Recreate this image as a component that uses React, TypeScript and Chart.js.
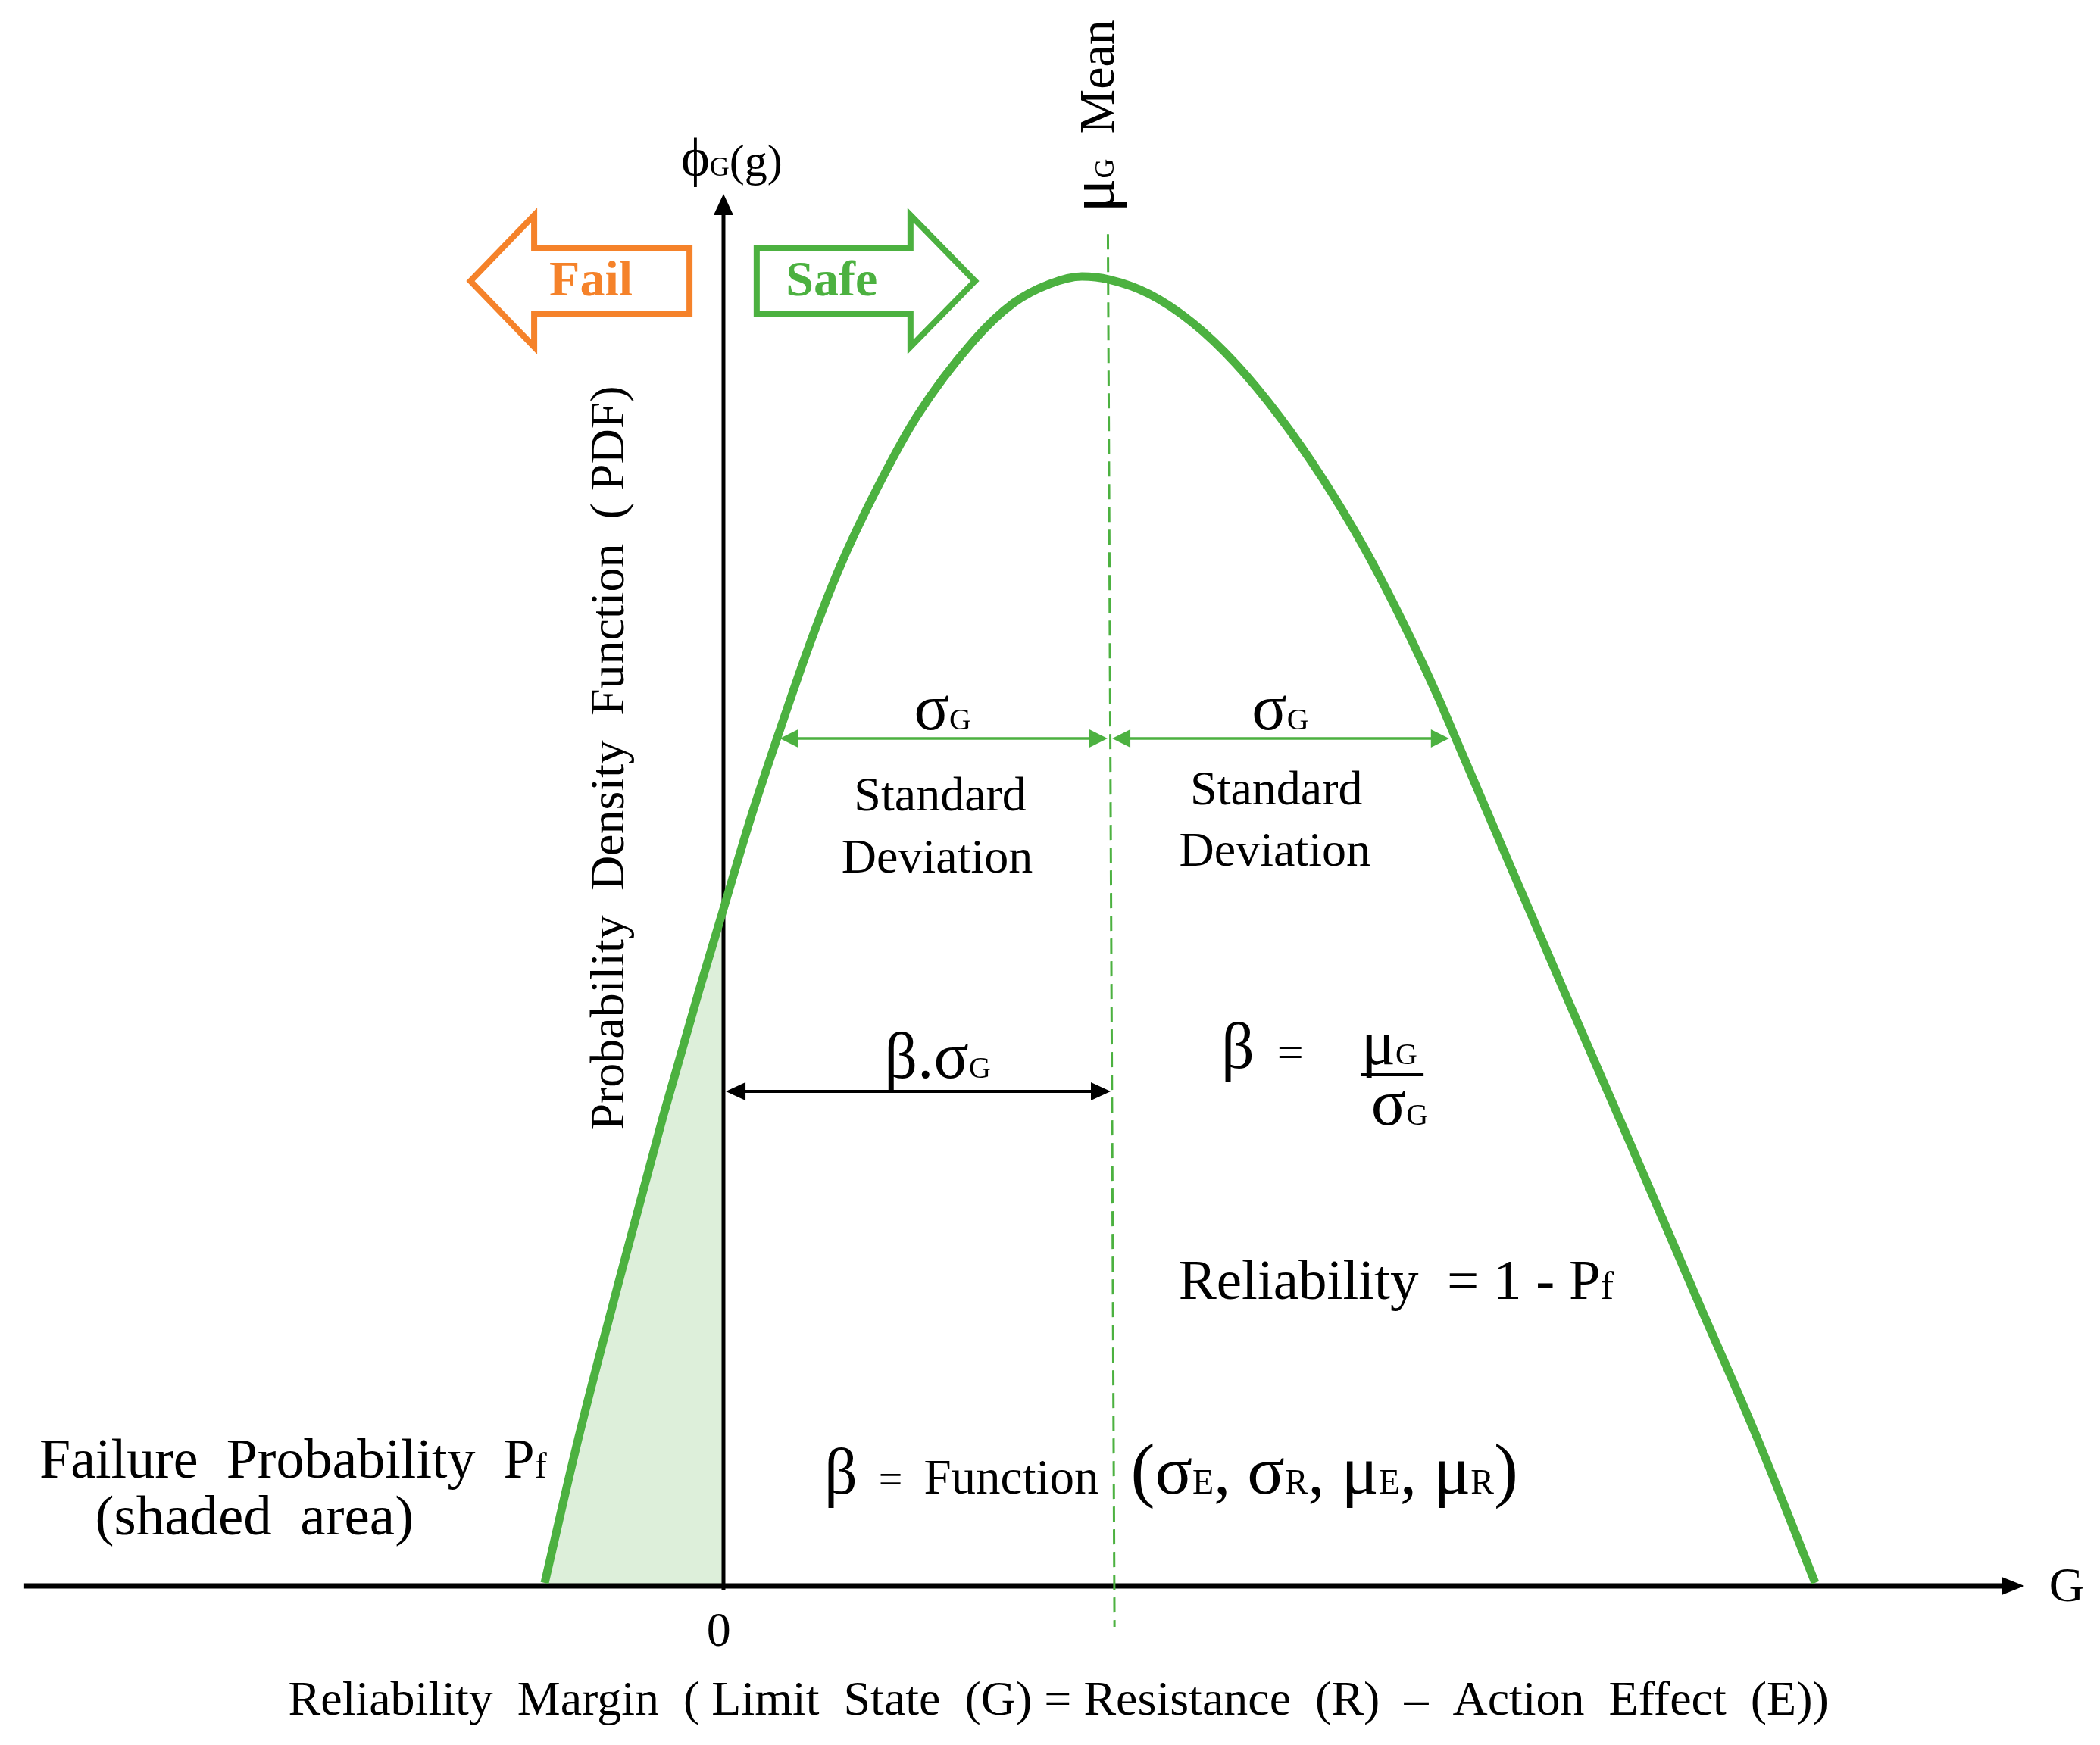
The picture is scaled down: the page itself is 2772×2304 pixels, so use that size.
import React, { useEffect, useRef } from 'react';
import { Chart, registerables } from 'chart.js';

Chart.register(...registerables);

// ---------------- data ----------------
// G axis: 0 = limit state (vertical axis), mean muG = 100 (arbitrary units)
const curveG = [
  -46.27, -37.65, -26.86, -15.69, -6.27, 0, 6.86, 14.31, 22.35, 30.0, 39.22, 50.0, 64.71,
  75.1, 84.31, 92.75, 99.8, 110.2, 121.37, 132.55, 143.92, 155.1, 165.69, 175.88, 184.9,
  189.61, 201.76, 217.25, 234.71, 251.96, 267.65, 282.55,
];
// PDF height (arbitrary units, peak ~ 100)
const curvePDF = [
  0.12, 11.03, 23.34, 35.64, 45.35, 51.53, 58.29, 64.93, 71.75, 77.53, 83.3, 89.08, 94.86,
  97.75, 99.19, 99.77, 99.54, 98.44, 96.25, 93.13, 89.08, 84.34, 79.15, 73.37, 67.71,
  64.47, 56.1, 45.47, 33.62, 21.78, 11.09, 0.12,
];
const meanG = 100;
const gTickValues = [0];
const gTickLabels = ['0'];

const failG = curveG.filter((g) => g <= 0);
const failPDF = curvePDF.slice(0, failG.length);

// ---------------- view / styling ----------------
const W = 2772;
const H = 2304;
const G_MIN = -187.25;
const G_MAX = 356.27;
const P_MIN = -12.25;
const P_MAX = 120.86;

const GREEN = '#4CB140';
const SHADE = '#DDEFDA';
const ORANGE = '#F5822A';
const BLACK = '#000000';
const FONT = '"Liberation Serif", "Times New Roman", Times, "DejaVu Serif", serif';

type Seg = { t: string; s: number; b?: boolean };
type Label = { x: number; y: number; segs: Seg[]; align?: 'left' | 'center'; color?: string; rot?: boolean };

const labels: Label[] = [
  { x: -34.3, y: 98.3, align: 'center', color: ORANGE, segs: [{ t: 'Fail', s: 66, b: true }] },
  { x: 28.0, y: 98.3, align: 'center', color: GREEN, segs: [{ t: 'Safe', s: 66, b: true }] },
  { x: -11.0, y: 107.45, align: 'left', segs: [{ t: 'ϕ', s: 72 }, { t: 'G', s: 36 }, { t: '(g)', s: 60 }] },
  { x: 101.0, y: 112.0, rot: true, align: 'center', segs: [{ t: 'μ', s: 84 }, { t: 'G', s: 36 }, { t: '  Mean', s: 66 }] },
  { x: -25.9, y: 63.03, rot: true, align: 'center', segs: [{ t: 'Probability  Density  Function  ( PDF)', s: 64 }] },
  { x: 56.7, y: 65.2, align: 'center', segs: [{ t: 'σ', s: 86 }, { t: 'G', s: 40 }] },
  { x: 144.1, y: 65.2, align: 'center', segs: [{ t: 'σ', s: 86 }, { t: 'G', s: 40 }] },
  { x: 56.1, y: 59.04, align: 'center', segs: [{ t: 'Standard', s: 64 }] },
  { x: 55.3, y: 54.3, align: 'center', segs: [{ t: 'Deviation', s: 64 }] },
  { x: 143.1, y: 59.5, align: 'center', segs: [{ t: 'Standard', s: 64 }] },
  { x: 142.7, y: 54.82, align: 'center', segs: [{ t: 'Deviation', s: 64 }] },
  { x: 55.4, y: 38.65, align: 'center', segs: [{ t: 'β.σ', s: 86 }, { t: 'G', s: 40 }] },
  { x: 128.8, y: 39.4, align: 'left', segs: [{ t: 'β', s: 86 }] },
  { x: 146.7, y: 39.4, align: 'center', segs: [{ t: '=', s: 62 }] },
  { x: 165.1, y: 39.69, align: 'left', segs: [{ t: 'μ', s: 84 }, { t: 'G', s: 40 }] },
  { x: 167.6, y: 35.07, align: 'left', segs: [{ t: 'σ', s: 86 }, { t: 'G', s: 40 }] },
  { x: 117.8, y: 21.78, align: 'left', segs: [{ t: 'Reliability  = 1 - P', s: 75 }, { t: 'f', s: 52 }] },
  { x: -111.4, y: 8.15, align: 'center', segs: [{ t: 'Failure  Probability  P', s: 74 }, { t: 'f', s: 48 }] },
  { x: -121.4, y: 3.81, align: 'center', segs: [{ t: '(shaded  area)', s: 75 }] },
  {
    x: 26.1, y: 6.93, align: 'left',
    segs: [
      { t: 'β', s: 86 }, { t: '  =  ', s: 56 }, { t: 'Function', s: 65 }, { t: '   ', s: 56 },
      { t: '(', s: 96 }, { t: 'σ', s: 92 }, { t: 'E', s: 46 }, { t: ', ', s: 88 },
      { t: 'σ', s: 92 }, { t: 'R', s: 46 }, { t: ', ', s: 88 },
      { t: 'μ', s: 92 }, { t: 'E', s: 46 }, { t: ', ', s: 88 },
      { t: 'μ', s: 92 }, { t: 'R', s: 46 }, { t: ')', s: 96 },
    ],
  },
  { x: 347.6, y: -1.27, align: 'center', segs: [{ t: 'G', s: 64 }] },
  {
    x: 86.7, y: -9.94, align: 'center',
    segs: [{ t: 'Reliability  Margin  ( Limit  State  (G) = Resistance  (R)  –  Action  Effect  (E))', s: 64 }],
  },
];

// outline arrows (data units)
const failArrow = [
  [-65.5, 99.42], [-49.0, 104.45], [-49.0, 101.91], [-8.8, 101.91],
  [-8.8, 96.94], [-49.0, 96.94], [-49.0, 94.4],
];
const safeArrow = [
  [65.1, 99.42], [48.4, 104.45], [48.4, 101.91], [8.6, 101.91],
  [8.6, 96.94], [48.4, 96.94], [48.4, 94.4],
];

function drawRich(ctx: CanvasRenderingContext2D, segs: Seg[], x: number, y: number, align: string, color: string) {
  ctx.fillStyle = color;
  ctx.textBaseline = 'alphabetic';
  ctx.textAlign = 'left';
  const widths = segs.map((sg) => {
    ctx.font = `${sg.b ? 'bold ' : ''}${sg.s}px ${FONT}`;
    return ctx.measureText(sg.t).width;
  });
  const total = widths.reduce((a, b) => a + b, 0);
  let cx = align === 'center' ? x - total / 2 : x;
  segs.forEach((sg, i) => {
    ctx.font = `${sg.b ? 'bold ' : ''}${sg.s}px ${FONT}`;
    ctx.fillText(sg.t, cx, y);
    cx += widths[i];
  });
}

function arrow(
  ctx: CanvasRenderingContext2D,
  x1: number, y1: number, x2: number, y2: number,
  o: { color: string; width: number; head: number; half: number; start?: boolean; end?: boolean },
) {
  const ang = Math.atan2(y2 - y1, x2 - x1);
  const ux = Math.cos(ang);
  const uy = Math.sin(ang);
  let sx = x1, sy = y1, ex = x2, ey = y2;
  if (o.start) { sx += ux * o.head * 0.8; sy += uy * o.head * 0.8; }
  if (o.end) { ex -= ux * o.head * 0.8; ey -= uy * o.head * 0.8; }
  ctx.save();
  ctx.strokeStyle = o.color;
  ctx.lineWidth = o.width;
  ctx.setLineDash([]);
  ctx.beginPath();
  ctx.moveTo(sx, sy);
  ctx.lineTo(ex, ey);
  ctx.stroke();
  ctx.fillStyle = o.color;
  const tri = (tx: number, ty: number, dx: number, dy: number) => {
    ctx.beginPath();
    ctx.moveTo(tx, ty);
    ctx.lineTo(tx - dx * o.head - dy * o.half, ty - dy * o.head + dx * o.half);
    ctx.lineTo(tx - dx * o.head + dy * o.half, ty - dy * o.head - dx * o.half);
    ctx.closePath();
    ctx.fill();
  };
  if (o.end) tri(x2, y2, ux, uy);
  if (o.start) tri(x1, y1, -ux, -uy);
  ctx.restore();
}

const diagramPlugin = {
  id: 'reliabilityDiagram',
  afterDatasetDraw(chart: any, args: any) {
    if (args.index !== 1) return;
    const ctx: CanvasRenderingContext2D = chart.ctx;
    const X = (v: number) => chart.scales.x.getPixelForValue(v);
    const Y = (v: number) => chart.scales.y.getPixelForValue(v);
    // horizontal G axis
    arrow(ctx, X(-181), Y(-0.12), X(336.7), Y(-0.12), { color: BLACK, width: 7, head: 30, half: 12, end: true });
    // vertical PDF axis
    arrow(ctx, X(0), Y(-0.46), X(0), Y(106.07), { color: BLACK, width: 5, head: 28, half: 13, end: true });
  },
  afterDatasetsDraw(chart: any) {
    const ctx: CanvasRenderingContext2D = chart.ctx;
    const X = (v: number) => chart.scales.x.getPixelForValue(v);
    const Y = (v: number) => chart.scales.y.getPixelForValue(v);
    ctx.save();

    // mean dashed line
    ctx.strokeStyle = GREEN;
    ctx.lineWidth = 3;
    ctx.setLineDash([20, 10]);
    ctx.beginPath();
    ctx.moveTo(X(meanG - 0.5), Y(103.0));
    ctx.lineTo(X(meanG + 1.2), Y(-3.24));
    ctx.stroke();
    ctx.setLineDash([]);

    // Fail / Safe outline arrows
    const poly = (pts: number[][], color: string) => {
      ctx.beginPath();
      pts.forEach((p, i) => (i ? ctx.lineTo(X(p[0]), Y(p[1])) : ctx.moveTo(X(p[0]), Y(p[1]))));
      ctx.closePath();
      ctx.strokeStyle = color;
      ctx.lineWidth = 8;
      ctx.lineJoin = 'miter';
      ctx.miterLimit = 10;
      ctx.stroke();
    };
    poly(failArrow, ORANGE);
    poly(safeArrow, GREEN);

    // sigma arrows
    const sig = { color: GREEN, width: 3.5, head: 24, half: 12, start: true, end: true };
    arrow(ctx, X(14.6), Y(64.53), X(99.4), Y(64.53), sig);
    arrow(ctx, X(100.6), Y(64.53), X(187.8), Y(64.53), sig);
    // beta.sigma arrow
    arrow(ctx, X(0.6), Y(37.61), X(100.2), Y(37.61), { color: BLACK, width: 4, head: 26, half: 12, start: true, end: true });
    // fraction bar
    ctx.strokeStyle = BLACK;
    ctx.lineWidth = 4;
    ctx.beginPath();
    ctx.moveTo(X(164.9), Y(38.88));
    ctx.lineTo(X(181.2), Y(38.88));
    ctx.stroke();

    // tick labels
    gTickValues.forEach((v, i) => {
      drawRich(ctx, [{ t: gTickLabels[i], s: 64 }], X(v - 1.2), Y(-4.68), 'center', BLACK);
    });

    // text labels
    labels.forEach((l) => {
      const px = X(l.x);
      const py = Y(l.y);
      if (l.rot) {
        ctx.save();
        ctx.translate(px, py);
        ctx.rotate(-Math.PI / 2);
        drawRich(ctx, l.segs, 0, 0, l.align || 'left', l.color || BLACK);
        ctx.restore();
      } else {
        drawRich(ctx, l.segs, px, py, l.align || 'left', l.color || BLACK);
      }
    });
    ctx.restore();
  },
};

export default function App() {
  const ref = useRef<HTMLCanvasElement | null>(null);
  useEffect(() => {
    if (!ref.current) return;
    const chart = new Chart(ref.current, {
      type: 'scatter',
      data: {
        datasets: [
          {
            label: 'PDF of G',
            data: curveG.map((g, i) => ({ x: g, y: curvePDF[i] })),
            showLine: true,
            borderColor: GREEN,
            borderWidth: 11,
            borderCapStyle: 'butt',
            pointRadius: 0,
            fill: false,
            cubicInterpolationMode: 'monotone',
            order: 0,
          } as any,
          {
            label: 'Failure probability',
            data: failG.map((g, i) => ({ x: g, y: failPDF[i] })),
            showLine: true,
            borderWidth: 0,
            borderColor: 'rgba(0,0,0,0)',
            backgroundColor: SHADE,
            fill: 'origin',
            pointRadius: 0,
            cubicInterpolationMode: 'monotone',
            order: 1,
          } as any,
        ],
      },
      options: {
        animation: false,
        responsive: false,
        maintainAspectRatio: false,
        devicePixelRatio: 1,
        layout: { padding: 0 },
        plugins: { legend: { display: false }, tooltip: { enabled: false } },
        scales: {
          x: { type: 'linear', min: G_MIN, max: G_MAX, display: false },
          y: { type: 'linear', min: P_MIN, max: P_MAX, display: false },
        },
      },
      plugins: [diagramPlugin],
    });
    return () => chart.destroy();
  }, []);
  return (
    <div style={{ position: 'fixed', left: 0, top: 0, width: W, height: H, background: '#ffffff' }}>
      <canvas ref={ref} width={W} height={H} style={{ display: 'block', width: W, height: H }} />
    </div>
  );
}
